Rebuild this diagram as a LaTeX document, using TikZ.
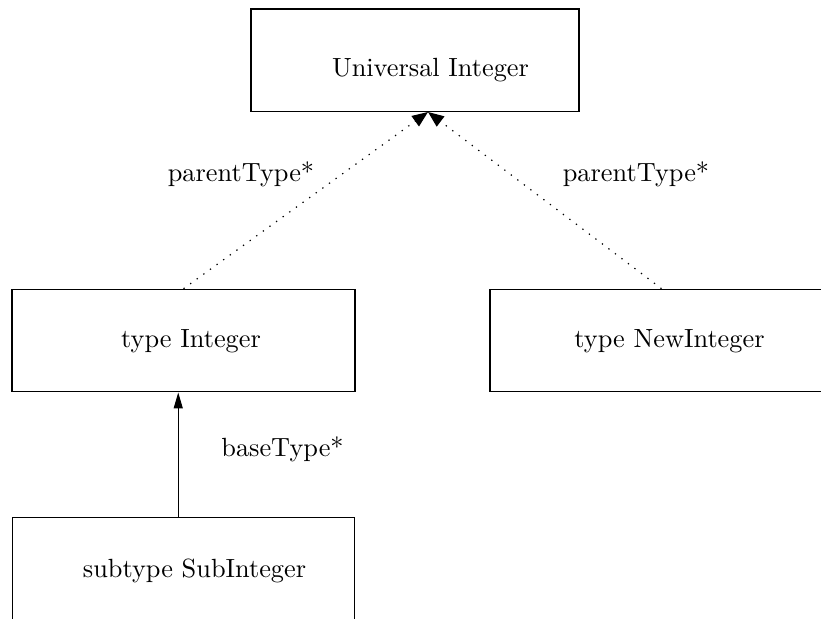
\documentclass[tikz,border=0pt]{standalone}
\usetikzlibrary{arrows.meta}
\begin{document}
\begin{tikzpicture}[x=0.38pt,y=-0.38pt,
  box/.style={draw, line width=0.45pt, inner sep=0pt, minimum height=39pt},
  lbl/.style={anchor=base, inner sep=0pt},
  dottedarrow/.style={line width=0.45pt, dash pattern=on 0.5pt off 2.6pt, -{Triangle[length=6pt,width=4.8pt]}},
  solidarrow/.style={line width=0.45pt, -{Triangle[length=6pt,width=3.4pt]}}]
\useasboundingbox (0,0) rectangle (821,619);
\clip (0,0) rectangle (821,619);
% boxes
\node[box, minimum width=124.6pt] (ui) at (415,60.4) {};
\node[box, minimum width=130.3pt] (ti) at (183.5,340.6) {};
\node[box, minimum width=130.3pt] (ni) at (661.5,340.6) {};
\node[box, minimum width=130pt] (si) at (183.5,568.5) {};
% texts
\node[lbl] (uit) at (430.5,77) {Universal Integer};
\node[lbl] (tit) at (191,348) {type Integer};
\node[lbl] (nit) at (669.5,348) {type NewInteger};
\node[lbl] (sit) at (194.5,578) {subtype SubInteger};
\node[lbl] (p1) at (241,182) {parentType*};
\node[lbl] (p2) at (636,182) {parentType*};
\node[lbl] (bt) at (282.5,457) {baseType*};
% connectors
\coordinate (uitip) at (428,112);
\draw[dottedarrow] (ti.north) -- (uitip);
\draw[dottedarrow] (ni.north) -- (uitip);
\draw[solidarrow] ([xshift=-2pt]si.north) -- ([xshift=-2pt]ti.south);
\end{tikzpicture}
\end{document}
